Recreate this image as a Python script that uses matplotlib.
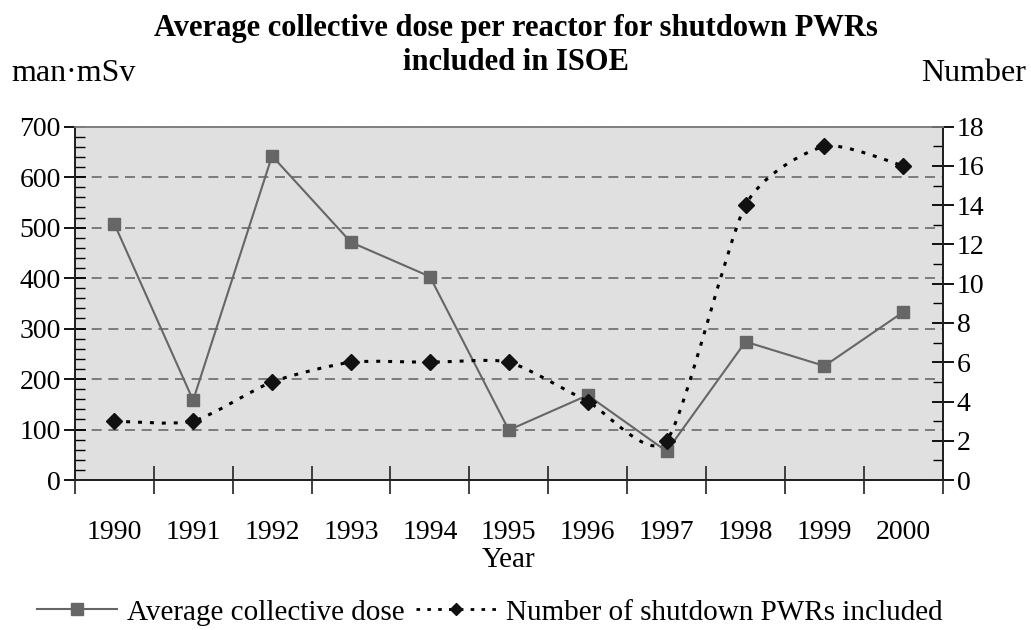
import matplotlib
matplotlib.use("Agg")
import matplotlib.pyplot as plt
import numpy as np
from matplotlib.path import Path
from matplotlib.patches import PathPatch
from matplotlib.lines import Line2D
from matplotlib.ticker import MultipleLocator

years = ["1990", "1991", "1992", "1993", "1994", "1995",
         "1996", "1997", "1998", "1999", "2000"]
avg_dose = [508, 158, 642, 471, 403, 99, 168, 57, 274, 226, 333]
n_reactors = [3, 3, 5, 6, 6, 6, 4, 2, 14, 17, 16]

plt.rcParams["font.family"] = ["Liberation Serif", "DejaVu Serif"]
FS_TICK = 20
FS_TEXT = 23
FS_LEG = 21

GREY_LINE = "#666666"
BG = "#e0e0e0"


def smooth_path(xs, ys, k=0.11):
    # Excel-like smoothed line: Bezier segments, control points from neighbours
    pts = np.column_stack([xs, ys]).astype(float)
    n = len(pts)
    verts = [pts[0]]
    codes = [Path.MOVETO]
    for i in range(n - 1):
        p0 = pts[i - 1] if i > 0 else pts[i]
        p1 = pts[i]
        p2 = pts[i + 1]
        p3 = pts[i + 2] if i + 2 < n else pts[i + 1]
        c1 = p1 + (p2 - p0) * k
        c2 = p2 - (p3 - p1) * k
        verts += [c1, c2, p2]
        codes += [Path.CURVE4] * 3
    return Path(verts, codes)


fig = plt.figure(figsize=(10.31, 6.3), dpi=100)
ax = fig.add_axes([0.0725, 0.238, 0.842, 0.561])
ax2 = ax.twinx()

x = np.arange(len(years))

ax.set_facecolor(BG)
ax.set_axisbelow(True)
ax.plot(x, avg_dose, color=GREY_LINE, linewidth=1.5, marker="s",
        markersize=9, markerfacecolor=GREY_LINE, markeredgecolor=GREY_LINE,
        zorder=3)

patch = PathPatch(smooth_path(x, n_reactors), facecolor="none",
                  edgecolor="black", linewidth=2.2,
                  linestyle=(0, (1.3, 2.6)), zorder=3)
ax2.add_patch(patch)
ax2.plot(x, n_reactors, linestyle="none", marker="D", markersize=8,
         color="#111111", zorder=4)

ax.set_xlim(-0.5, len(years) - 0.5)
ax.set_ylim(0, 700)
ax2.set_ylim(0, 18)

ax.set_xticks(x)
ax.set_xticklabels(years)
ax.set_xticks(np.arange(-0.5, len(years), 1.0), minor=True)
ax.tick_params(axis="x", which="major", length=0, pad=29, labelsize=FS_TICK)
ax.tick_params(axis="x", which="minor", direction="inout", length=20,
               width=1.3, color="#333333")

ax.yaxis.set_major_locator(MultipleLocator(100))
ax.yaxis.set_minor_locator(MultipleLocator(20))
ax.tick_params(axis="y", which="major", direction="inout", length=16,
               width=1.3, labelsize=FS_TICK, pad=2)
ax.tick_params(axis="y", which="minor", direction="in", length=7, width=1.0)

ax2.yaxis.set_major_locator(MultipleLocator(2))
ax2.yaxis.set_minor_locator(MultipleLocator(1))
ax2.tick_params(axis="y", which="major", direction="inout", length=16,
                width=1.3, labelsize=FS_TICK, pad=2)
ax2.tick_params(axis="y", which="minor", direction="in", length=7, width=1.0)

ax.yaxis.grid(True, which="major", linestyle=(0, (6, 4)), color="#6a6a6a",
              linewidth=1.2)

for a in (ax, ax2):
    for side in ("left", "bottom", "right"):
        a.spines[side].set_color("#222222")
        a.spines[side].set_linewidth(1.4)
    a.spines["top"].set_color("#808080")
    a.spines["top"].set_linewidth(1.2)

ax.set_xlabel("Year", fontsize=FS_TICK + 1, labelpad=1)

fig.text(0.5, 0.955, "Average collective dose per reactor for shutdown PWRs",
         ha="center", va="center", fontsize=22, fontweight="bold")
fig.text(0.5, 0.900, "included in ISOE", ha="center", va="center",
         fontsize=22, fontweight="bold")
fig.text(0.011, 0.884, "man·mSv", ha="left", va="center", fontsize=FS_TEXT)
fig.text(0.995, 0.884, "Number", ha="right", va="center", fontsize=FS_TEXT)

handles = [
    Line2D([], [], color=GREY_LINE, linewidth=1.5, marker="s", markersize=8,
           markerfacecolor=GREY_LINE),
    Line2D([], [], color="black", linewidth=2.0, linestyle=(0, (1.3, 2.6)),
           marker="D", markersize=6, markerfacecolor="#111111",
           markeredgecolor="#111111"),
]
fig.legend(handles, ["Average collective dose",
                     "Number of shutdown PWRs included"],
           loc="center", bbox_to_anchor=(0.475, 0.028), ncol=2,
           frameon=False, fontsize=FS_LEG, handlelength=2.75,
           handletextpad=0.34, columnspacing=0.4, numpoints=1)

fig.savefig("out.png", dpi=100)
